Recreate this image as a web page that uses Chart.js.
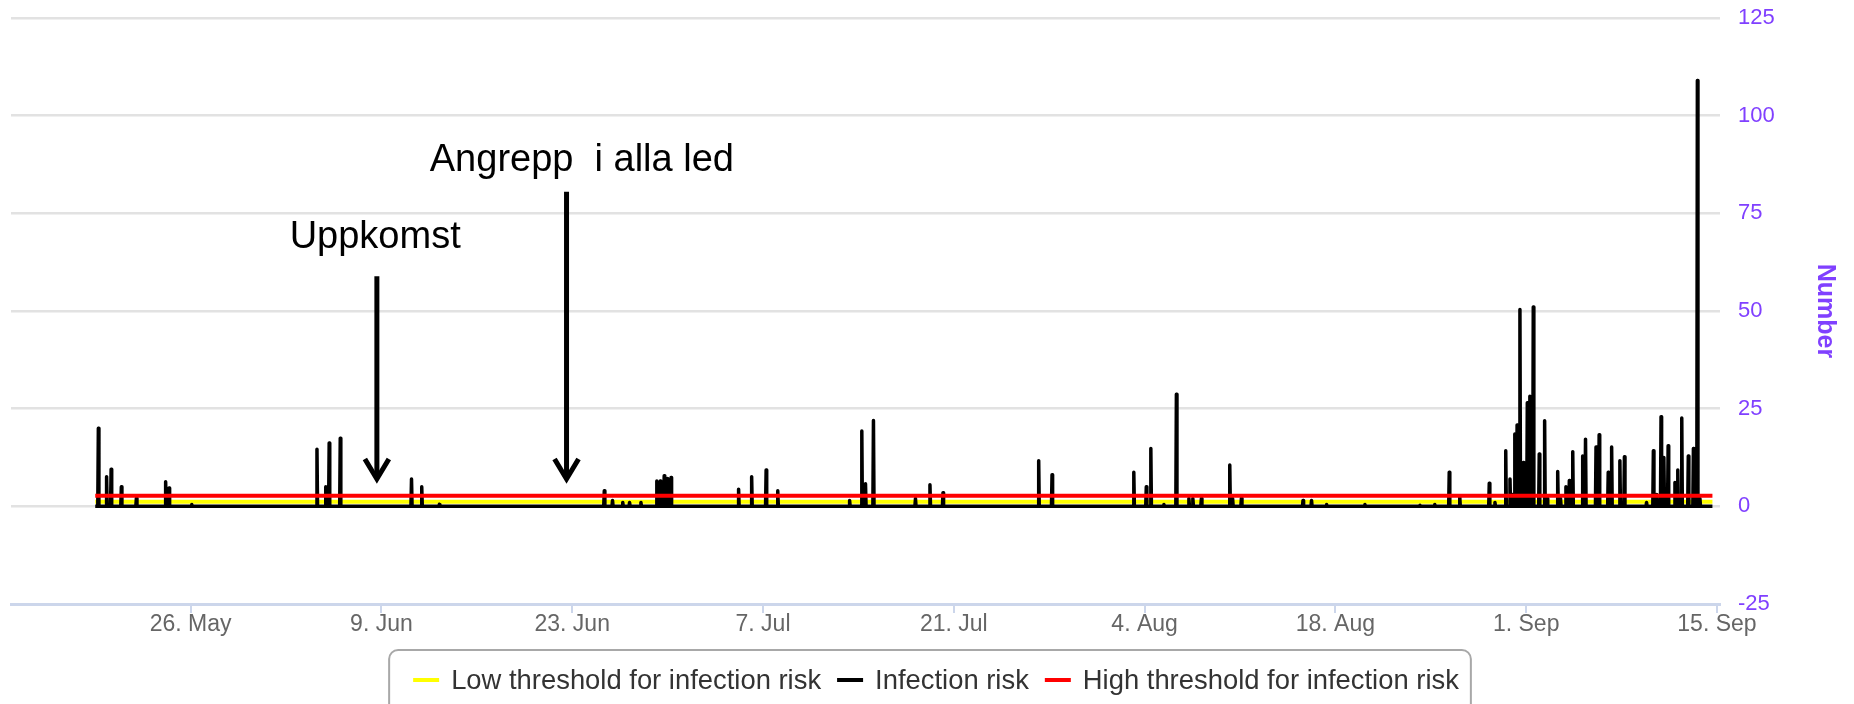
<!DOCTYPE html>
<html><head><meta charset="utf-8">
<script src="https://cdn.jsdelivr.net/npm/chart.js@4.4.1/dist/chart.umd.min.js"></script>
<style>html,body{margin:0;padding:0;background:#fff;overflow:hidden}canvas{display:block}</style>
</head><body>
<canvas id="c" width="1854" height="704"></canvas>
<script>
const YEAR = 2019;
const seriesNames = ['Low threshold for infection risk', 'Infection risk', 'High threshold for infection risk'];
const seriesStart = '05-19 00:00';
const seriesEnd = '09-14 16:00';
const lowThreshold = 1.2;
const highThreshold = 2.7;
const spikeTimes = [
 '05-19 05:30','05-19 20:00','05-20 04:00','05-20 22:00','05-22 00:30','05-24 04:00','05-24 10:00','05-26 02:00',
 '06-04 06:30','06-04 22:00','06-05 04:00','06-05 23:30','06-11 05:00','06-11 23:00','06-13 06:00',
 '06-25 08:30','06-25 23:00','06-26 17:00','06-27 05:00','06-28 01:00','06-29 05:00','06-29 11:00','06-29 18:00','06-30 00:00','06-30 06:00',
 '07-05 05:00','07-06 04:00','07-07 05:30','07-08 02:00','07-13 08:30','07-14 06:00','07-14 12:30','07-15 02:30',
 '07-18 04:30','07-19 06:00','07-20 05:00','07-27 05:30','07-28 05:00',
 '08-03 05:00','08-04 03:00','08-04 11:00','08-05 10:00','08-06 08:00','08-07 06:00','08-07 13:00','08-08 04:00',
 '08-10 06:00','08-10 11:00','08-11 02:30','08-15 15:00','08-16 06:00','08-17 08:30','08-20 04:00','08-24 05:00','08-25 07:00',
 '08-26 08:30','08-27 03:00','08-29 07:00','08-29 17:00','08-30 12:00','08-30 19:30','08-31 00:00','08-31 04:00','08-31 08:00',
 '08-31 13:00','08-31 19:00','09-01 02:00','09-01 06:30','09-01 12:30','09-01 23:00','09-02 08:30','09-02 13:00',
 '09-03 07:30','09-03 12:30','09-03 22:00','09-04 04:00','09-04 10:00','09-05 03:30','09-05 08:30','09-06 03:00','09-06 08:30',
 '09-07 00:30','09-07 06:30','09-07 21:00','09-08 05:00','09-09 20:00','09-10 08:00','09-10 14:00','09-10 21:30',
 '09-11 02:30','09-11 10:00','09-11 22:00','09-12 03:00','09-12 10:00','09-12 21:30','09-13 06:30','09-13 13:30','09-13 18:00'
];
const spikeValues = [
 20, 7.6, 9.5, 5, 2.1, 6.3, 4.7, 0.5,
 14.6, 5, 16.2, 17.4, 7, 5, 0.5,
 4, 1.5, 1, 1, 1, 6.5, 6.5, 7.8, 7.1, 7.4,
 4.4, 7.6, 9.3, 4, 1.5, 19.3, 5.8, 22,
 2, 5.5, 3.5, 11.7, 8.1,
 8.7, 5, 14.8, 0.5, 28.7, 2, 2, 2,
 10.6, 2, 2.1, 1.5, 1.5, 0.5, 0.5, 0.3, 0.5,
 8.7, 2.5, 5.9, 1, 14.2, 7, 3, 18.5, 20.8,
 50.4, 11.2, 26.5, 28.2, 51, 13.4, 21.9, 2,
 8.9, 2, 5, 6.6, 14, 12.9, 17.2, 15.2, 18.3,
 8.7, 15.2, 11.7, 12.7, 1, 14.2, 3, 22.9,
 12.5, 15.5, 6.1, 9.3, 22.6, 12.9, 14.8, 109, 2
];
const xMin = '05-12 19:40';
const xMax = '09-15 05:20';
const tickDates = ['05-26','06-09','06-23','07-07','07-21','08-04','08-18','09-01','09-15'];
const tickLabels = ['26. May','9. Jun','23. Jun','7. Jul','21. Jul','4. Aug','18. Aug','1. Sep','15. Sep'];
const yMin = -25, yMax = 125, yStep = 25;
const annotations = [
  {label: 'Uppkomst', textAt: '06-08 13:00', textY: 66.2, arrowAt: '06-08 16:00', arrowTop: 58.9, arrowTip: 6.5},
  {label: 'Angrepp  i alla led', textAt: '06-23 17:00', textY: 85.8, arrowAt: '06-22 14:00', arrowTop: 80.5, arrowTip: 6.5}
];

function t(s) {
  const parts = s.split(' ');
  const md = parts[0].split('-').map(Number);
  const hm = (parts[1] || '00:00').split(':').map(Number);
  return Date.UTC(YEAR, md[0] - 1, md[1], hm[0], hm[1]);
}
const HOUR = 3600000;
const riskData = [{x: t(seriesStart), y: 0}];
spikeTimes.forEach((s, i) => {
  const tt = t(s);
  riskData.push({x: tt - HOUR, y: 0}, {x: tt, y: spikeValues[i]}, {x: tt + HOUR, y: 0});
});
riskData.push({x: t(seriesEnd), y: 0});

const tickValues = tickDates.map(d => t(d));
const FONT = '"Liberation Sans", Arial, sans-serif';

const annotationPlugin = {
  id: 'arrows',
  afterDatasetsDraw(chart) {
    const {ctx, scales: {x, y}} = chart;
    ctx.save();
    ctx.fillStyle = '#000';
    ctx.strokeStyle = '#000';
    ctx.font = '38px ' + FONT;
    ctx.textAlign = 'center';
    ctx.textBaseline = 'alphabetic';
    annotations.forEach(a => {
      ctx.fillText(a.label, x.getPixelForValue(t(a.textAt)), y.getPixelForValue(a.textY));
      const ax = x.getPixelForValue(t(a.arrowAt));
      const top = y.getPixelForValue(a.arrowTop);
      const tip = y.getPixelForValue(a.arrowTip);
      ctx.lineWidth = 5;
      ctx.lineCap = 'butt';
      ctx.beginPath();
      ctx.moveTo(ax, top);
      ctx.lineTo(ax, tip - 3);
      ctx.stroke();
      ctx.lineJoin = 'miter';
      ctx.beginPath();
      ctx.moveTo(ax - 12, tip - 22);
      ctx.lineTo(ax, tip - 2);
      ctx.lineTo(ax + 12, tip - 22);
      ctx.stroke();
    });
    ctx.restore();
  }
};

const legendPlugin = {
  id: 'boxLegend',
  afterDraw(chart) {
    const ctx = chart.ctx;
    ctx.save();
    ctx.font = '27.4px ' + FONT;
    const sym = 26, gapSym = 12, gapItem = 16;
    const items = chart.data.datasets.map(ds => ({text: ds.label, color: ds.borderColor, w: ctx.measureText(ds.label).width}));
    const total = items.reduce((s, it) => s + sym + gapSym + it.w, 0) + gapItem * (items.length - 1);
    let x0 = chart.width / 2 - total / 2 + 9;
    const cy = 680;
    ctx.strokeStyle = '#a8a8a8';
    ctx.lineWidth = 2;
    ctx.beginPath();
    ctx.roundRect(x0 - 24, 650, total + 36, 90, 9);
    ctx.stroke();
    ctx.textBaseline = 'middle';
    ctx.textAlign = 'left';
    items.forEach(it => {
      ctx.strokeStyle = it.color;
      ctx.lineWidth = 4;
      ctx.beginPath();
      ctx.moveTo(x0, cy);
      ctx.lineTo(x0 + sym, cy);
      ctx.stroke();
      ctx.fillStyle = '#333333';
      ctx.fillText(it.text, x0 + sym + gapSym, cy + 1);
      x0 += sym + gapSym + it.w + gapItem;
    });
    ctx.restore();
  }
};

new Chart(document.getElementById('c'), {
  type: 'line',
  data: {
    datasets: [
      {label: seriesNames[0], data: [{x: t(seriesStart), y: lowThreshold}, {x: t(seriesEnd), y: lowThreshold}], borderColor: '#ffff00', borderWidth: 4, order: 2},
      {label: seriesNames[1], data: riskData, borderColor: '#000000', borderWidth: 3.5, borderJoinStyle: 'round', order: 1},
      {label: seriesNames[2], data: [{x: t(seriesStart), y: highThreshold}, {x: t(seriesEnd), y: highThreshold}], borderColor: '#ff0000', borderWidth: 4, order: 0}
    ]
  },
  options: {
    responsive: false,
    animation: false,
    devicePixelRatio: 1,
    layout: {padding: {left: 11, top: 18, right: 0, bottom: 60}},
    elements: {point: {radius: 0, hoverRadius: 0}, line: {tension: 0}},
    plugins: {legend: {display: false}, tooltip: {enabled: false}},
    events: [],
    scales: {
      x: {
        type: 'linear',
        min: t(xMin),
        max: t(xMax),
        afterBuildTicks: s => { s.ticks = tickValues.map(v => ({value: v})); },
        afterFit: s => { s.height = 40; s.paddingLeft = 0; s.paddingRight = 0; },
        ticks: {
          autoSkip: false, maxRotation: 0, minRotation: 0, padding: -2,
          color: '#666666', font: {family: FONT, size: 23},
          callback: v => { const i = tickValues.indexOf(v); return i >= 0 ? tickLabels[i] : ''; }
        },
        grid: {drawOnChartArea: false, drawTicks: true, tickLength: 9, color: '#ccd6eb', lineWidth: 2},
        border: {color: '#ccd6eb', width: 3}
      },
      y: {
        position: 'right',
        min: yMin, max: yMax,
        afterFit: s => { s.width = 134; s.paddingTop = 0; s.paddingBottom = 0; },
        ticks: {stepSize: yStep, padding: 18, color: '#8040ff', font: {family: FONT, size: 22}},
        grid: {color: '#e2e2e2', lineWidth: 2.5, drawTicks: false},
        border: {display: false},
        title: {display: true, text: 'Number', color: '#8040ff', font: {family: FONT, size: 25, weight: 'bold'}, padding: {top: 14, bottom: 0}}
      }
    }
  },
  plugins: [annotationPlugin, legendPlugin]
});
</script>
</body></html>
